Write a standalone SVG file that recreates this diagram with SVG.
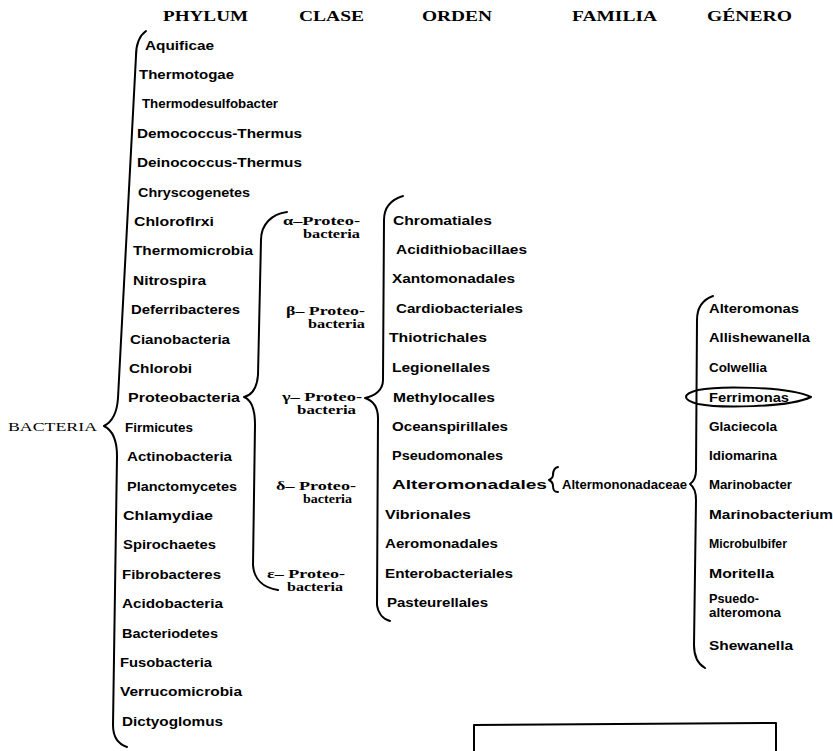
<svg xmlns="http://www.w3.org/2000/svg" width="833" height="751" viewBox="0 0 833 751">
<style>
.h{font-family:"Liberation Serif",serif;font-weight:bold;font-size:14px;fill:#000}
.t{font-family:"Liberation Sans",sans-serif;font-weight:bold;font-size:13px;fill:#000}
.c{font-family:"Liberation Serif",serif;font-weight:bold;font-size:12px;fill:#000}
.r{font-family:"Liberation Serif",serif;font-size:13px;fill:#000}
.b{fill:none;stroke:#000;stroke-width:2;stroke-linecap:round;stroke-linejoin:round}
</style>
<rect width="833" height="751" fill="#fff"/>
<g id="headers">
<text class="h" x="163" y="21" textLength="85" lengthAdjust="spacingAndGlyphs">PHYLUM</text>
<text class="h" x="299" y="21" textLength="65" lengthAdjust="spacingAndGlyphs">CLASE</text>
<text class="h" x="422" y="21" textLength="70" lengthAdjust="spacingAndGlyphs">ORDEN</text>
<text class="h" x="572" y="21" textLength="85" lengthAdjust="spacingAndGlyphs">FAMILIA</text>
<text class="h" x="707" y="21" textLength="85" lengthAdjust="spacingAndGlyphs">GÉNERO</text>
</g>
<g id="root"><text class="r" x="8" y="431" textLength="89" lengthAdjust="spacingAndGlyphs">BACTERIA</text></g>
<g id="connectors">
<path class="b" d="M146,31 C139,36 136,44 136,56 L118,398 C117,414 112,422 104,426 C112,430 117,440 117,456 L113,725 C113,737 118,744 127,747"/>
<path class="b" d="M287,212 C272,214 261,224 261,240 L258,375 C257,388 252,395 244,397 C252,400 255,410 255,425 L253,565 C254,580 264,588 278,590"/>
<path class="b" d="M403,196 C390,200 384,208 384,220 L383,380 C383,390 375,396 365,398 C374,401 378,408 378,418 L377,605 C378,613 383,619 390,621"/>
<path class="b" d="M558,467 C554,468 553,471 553,475 C553,478 551,479 549,480 C551,481 553,483 553,486 C553,490 554,492 558,492"/>
<path class="b" d="M713,296 C702,300 697,308 697,320 L696,470 C696,478 693,482 690,484 C694,487 696,492 696,500 L694,645 C694,656 698,664 705,668"/>
</g>
<g id="phylum">
<text class="t" x="145" y="49.5" textLength="69" lengthAdjust="spacingAndGlyphs">Aquificae</text>
<text class="t" x="139" y="78.9" textLength="95" lengthAdjust="spacingAndGlyphs">Thermotogae</text>
<text class="t" x="142" y="108.3" textLength="136" lengthAdjust="spacingAndGlyphs">Thermodesulfobacter</text>
<text class="t" x="137" y="137.7" textLength="165" lengthAdjust="spacingAndGlyphs">Demococcus-Thermus</text>
<text class="t" x="137" y="167.1" textLength="165" lengthAdjust="spacingAndGlyphs">Deinococcus-Thermus</text>
<text class="t" x="138" y="196.5" textLength="112" lengthAdjust="spacingAndGlyphs">Chryscogenetes</text>
<text class="t" x="134" y="225.9" textLength="80" lengthAdjust="spacingAndGlyphs">Chloroflrxi</text>
<text class="t" x="133" y="255.3" textLength="120" lengthAdjust="spacingAndGlyphs">Thermomicrobia</text>
<text class="t" x="133" y="284.7" textLength="73" lengthAdjust="spacingAndGlyphs">Nitrospira</text>
<text class="t" x="131" y="314.1" textLength="109" lengthAdjust="spacingAndGlyphs">Deferribacteres</text>
<text class="t" x="130" y="343.5" textLength="100" lengthAdjust="spacingAndGlyphs">Cianobacteria</text>
<text class="t" x="129" y="372.9" textLength="63" lengthAdjust="spacingAndGlyphs">Chlorobi</text>
<text class="t" x="128" y="402.3" textLength="112" lengthAdjust="spacingAndGlyphs">Proteobacteria</text>
<text class="t" x="125" y="431.7" textLength="68" lengthAdjust="spacingAndGlyphs">Firmicutes</text>
<text class="t" x="127" y="461.1" textLength="105" lengthAdjust="spacingAndGlyphs">Actinobacteria</text>
<text class="t" x="127" y="490.5" textLength="110" lengthAdjust="spacingAndGlyphs">Planctomycetes</text>
<text class="t" x="123" y="519.9" textLength="90" lengthAdjust="spacingAndGlyphs">Chlamydiae</text>
<text class="t" x="123" y="549.3" textLength="93" lengthAdjust="spacingAndGlyphs">Spirochaetes</text>
<text class="t" x="122" y="578.7" textLength="99" lengthAdjust="spacingAndGlyphs">Fibrobacteres</text>
<text class="t" x="122" y="608.1" textLength="101" lengthAdjust="spacingAndGlyphs">Acidobacteria</text>
<text class="t" x="122" y="637.5" textLength="96" lengthAdjust="spacingAndGlyphs">Bacteriodetes</text>
<text class="t" x="120" y="666.9" textLength="92" lengthAdjust="spacingAndGlyphs">Fusobacteria</text>
<text class="t" x="120" y="696.3" textLength="122" lengthAdjust="spacingAndGlyphs">Verrucomicrobia</text>
<text class="t" x="122" y="725.7" textLength="101" lengthAdjust="spacingAndGlyphs">Dictyoglomus</text>
</g>
<g id="clase">
<text class="c" x="283" y="225" textLength="77" lengthAdjust="spacingAndGlyphs">α–Proteo-</text>
<text class="c" x="303" y="237.5" textLength="57" lengthAdjust="spacingAndGlyphs">bacteria</text>
<text class="c" x="286" y="315" textLength="79" lengthAdjust="spacingAndGlyphs">β– Proteo-</text>
<text class="c" x="308" y="327.5" textLength="57" lengthAdjust="spacingAndGlyphs">bacteria</text>
<text class="c" x="282" y="401" textLength="80" lengthAdjust="spacingAndGlyphs">γ– Proteo-</text>
<text class="c" x="297" y="413.5" textLength="59" lengthAdjust="spacingAndGlyphs">bacteria</text>
<text class="c" x="276" y="490" textLength="80" lengthAdjust="spacingAndGlyphs">δ– Proteo-</text>
<text class="c" x="303" y="502.5" textLength="49" lengthAdjust="spacingAndGlyphs">bacteria</text>
<text class="c" x="267" y="578" textLength="78" lengthAdjust="spacingAndGlyphs">ε– Proteo-</text>
<text class="c" x="287" y="590.5" textLength="56" lengthAdjust="spacingAndGlyphs">bacteria</text>
</g>
<g id="orden">
<text class="t" x="393" y="224.5" textLength="99" lengthAdjust="spacingAndGlyphs">Chromatiales</text>
<text class="t" x="396" y="253.5" textLength="131" lengthAdjust="spacingAndGlyphs">Acidithiobacillaes</text>
<text class="t" x="392" y="282.5" textLength="123" lengthAdjust="spacingAndGlyphs">Xantomonadales</text>
<text class="t" x="396" y="312.5" textLength="127" lengthAdjust="spacingAndGlyphs">Cardiobacteriales</text>
<text class="t" x="389" y="341.5" textLength="98" lengthAdjust="spacingAndGlyphs">Thiotrichales</text>
<text class="t" x="392" y="371.5" textLength="98" lengthAdjust="spacingAndGlyphs">Legionellales</text>
<text class="t" x="393" y="401.5" textLength="102" lengthAdjust="spacingAndGlyphs">Methylocalles</text>
<text class="t" x="392" y="430.5" textLength="116" lengthAdjust="spacingAndGlyphs">Oceanspirillales</text>
<text class="t" x="392" y="459.5" textLength="111" lengthAdjust="spacingAndGlyphs">Pseudomonales</text>
<text class="t" x="392" y="488.5" textLength="155" lengthAdjust="spacingAndGlyphs">Alteromonadales</text>
<text class="t" x="385" y="518.5" textLength="86" lengthAdjust="spacingAndGlyphs">Vibrionales</text>
<text class="t" x="385" y="547.5" textLength="113" lengthAdjust="spacingAndGlyphs">Aeromonadales</text>
<text class="t" x="385" y="577.5" textLength="128" lengthAdjust="spacingAndGlyphs">Enterobacteriales</text>
<text class="t" x="387" y="606.5" textLength="101" lengthAdjust="spacingAndGlyphs">Pasteurellales</text>
</g>
<g id="familia">
<text class="t" x="562" y="488.5" textLength="125" lengthAdjust="spacingAndGlyphs">Altermononadaceae</text>
</g>
<g id="genero">
<text class="t" x="709" y="312.5" textLength="90" lengthAdjust="spacingAndGlyphs">Alteromonas</text>
<text class="t" x="709" y="341.5" textLength="101" lengthAdjust="spacingAndGlyphs">Allishewanella</text>
<text class="t" x="709" y="371.5" textLength="58" lengthAdjust="spacingAndGlyphs">Colwellia</text>
<text class="t" x="709" y="401.5" textLength="80" lengthAdjust="spacingAndGlyphs">Ferrimonas</text>
<path class="b" d="M698,390 C718,386 788,386 811,397 C788,408 718,408 698,404 C682,400 682,394 698,390 Z"/>
<text class="t" x="709" y="430.5" textLength="68" lengthAdjust="spacingAndGlyphs">Glaciecola</text>
<text class="t" x="709" y="459.5" textLength="68" lengthAdjust="spacingAndGlyphs">Idiomarina</text>
<text class="t" x="709" y="488.5" textLength="83" lengthAdjust="spacingAndGlyphs">Marinobacter</text>
<text class="t" x="709" y="518.5" textLength="124" lengthAdjust="spacingAndGlyphs">Marinobacterium</text>
<text class="t" x="709" y="547.5" textLength="78" lengthAdjust="spacingAndGlyphs">Microbulbifer</text>
<text class="t" x="709" y="577.5" textLength="65" lengthAdjust="spacingAndGlyphs">Moritella</text>
<text class="t" x="709" y="603" textLength="50" lengthAdjust="spacingAndGlyphs">Psuedo-</text>
<text class="t" x="709" y="617" textLength="72" lengthAdjust="spacingAndGlyphs">alteromona</text>
<text class="t" x="709" y="649.5" textLength="84" lengthAdjust="spacingAndGlyphs">Shewanella</text>
</g>
<g id="box"><path class="b" stroke-width="2.5" d="M474,752 L474,725 L776,723 L776,752"/></g>
</svg>
